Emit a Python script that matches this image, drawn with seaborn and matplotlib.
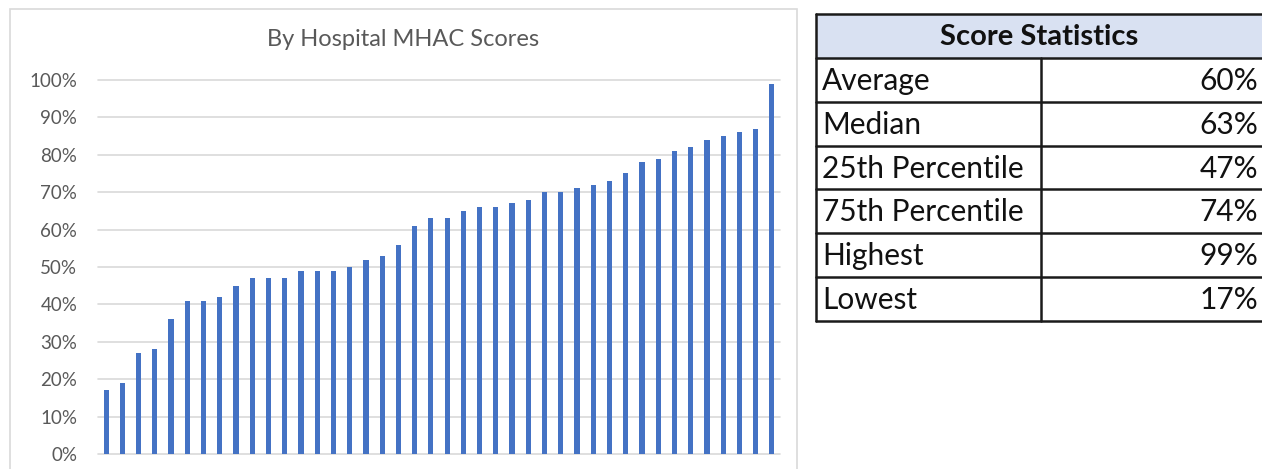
import matplotlib
matplotlib.use("Agg")
import matplotlib.pyplot as plt
import seaborn as sns
import pandas as pd
from matplotlib.patches import Rectangle
from matplotlib.lines import Line2D
from matplotlib.ticker import PercentFormatter

# ---- data ----
hospital_ids = list(range(1, 43))
scores = [17, 19, 27, 28, 36, 41, 41, 42, 45, 47, 47, 47, 49, 49, 49, 50, 52, 53, 56,
          61, 63, 63, 65, 66, 66, 67, 68, 70, 70, 71, 72, 73, 75, 78, 79, 81, 82, 84,
          85, 86, 87, 99]
y_ticks = [0, 10, 20, 30, 40, 50, 60, 70, 80, 90, 100]
chart_title = "By Hospital MHAC Scores"
table_title = "Score Statistics"
stat_labels = ["Average", "Median", "25th Percentile", "75th Percentile", "Highest", "Lowest"]
stat_values = ["60%", "63%", "47%", "74%", "99%", "17%"]

sns.set_theme(style="white")
plt.rcParams['font.family'] = ['Lato', 'DejaVu Sans']

W, H = 1262, 469
fig = plt.figure(figsize=(W / 100, H / 100), dpi=100)
fig.patch.set_facecolor("white")

def fx(px):
    return px / W

def fy(py):
    return 1 - py / H

# chart panel border
fig.add_artist(Rectangle((fx(10), fy(480)), fx(797) - fx(10), fy(9) - fy(480),
                         transform=fig.transFigure, fill=False, edgecolor="#D9D9D9", lw=1.2))

# ---- bar chart ----
ax = fig.add_axes([fx(98), fy(454), fx(780) - fx(98), fy(80) - fy(454)])
df = pd.DataFrame({"hospital": hospital_ids, "score": scores})
sns.barplot(data=df, x="hospital", y="score", color="#4472C4", saturation=1,
            width=0.32, ax=ax, edgecolor="none")
ax.set_ylim(0, 100)
ax.set_xlim(-0.5, len(scores) - 0.5)
ax.set_yticks(y_ticks)
ax.yaxis.set_major_formatter(PercentFormatter(decimals=0))
ax.set_xticks([])
ax.set_xlabel("")
ax.set_ylabel("")
for s in ax.spines.values():
    s.set_visible(False)
ax.set_axisbelow(True)
for yv in y_ticks:
    ax.axhline(yv, color="#D9D9D9", lw=1.2, zorder=0, clip_on=False)
ax.tick_params(axis="y", length=0, pad=15, labelsize=13.5, labelcolor="#595959")
fig.text(fx(403), fy(40), chart_title, ha="center", va="center",
         fontsize=17, color="#595959")

# ---- statistics table ----
tl, tr, tm = 816, 1264, 1041
header_top, header_bot = 14, 58
row_h = 43.8
lc = "#1a1a1a"
lw = 1.8
fig.add_artist(Rectangle((fx(tl), fy(header_bot)), fx(tr) - fx(tl), fy(header_top) - fy(header_bot),
                         transform=fig.transFigure, facecolor="#D9E1F2", edgecolor="none"))
fig.text(fx((tl + 1262) / 2), fy((header_top + header_bot) / 2 + 1), table_title,
         ha="center", va="center", fontsize=21, fontweight="bold", color="#111111")
bottom = header_bot + row_h * len(stat_labels)
# horizontal lines
ys = [header_top, header_bot] + [header_bot + row_h * (i + 1) for i in range(len(stat_labels))]
for yv in ys:
    fig.add_artist(Line2D([fx(tl), fx(tr)], [fy(yv), fy(yv)], transform=fig.transFigure,
                          color=lc, lw=lw))
fig.add_artist(Line2D([fx(tl), fx(tl)], [fy(header_top), fy(bottom)], transform=fig.transFigure,
                      color=lc, lw=lw))
fig.add_artist(Line2D([fx(tm), fx(tm)], [fy(header_bot), fy(bottom)], transform=fig.transFigure,
                      color=lc, lw=lw))
for i, (lab, val) in enumerate(zip(stat_labels, stat_values)):
    yc = header_bot + row_h * (i + 0.5) + 1
    fig.text(fx(tl + 6), fy(yc), lab, ha="left", va="center", fontsize=21.5, color="#111111")
    fig.text(fx(1258), fy(yc), val, ha="right", va="center", fontsize=21.5, color="#111111")

fig.savefig("out.png", dpi=100, facecolor="white")
